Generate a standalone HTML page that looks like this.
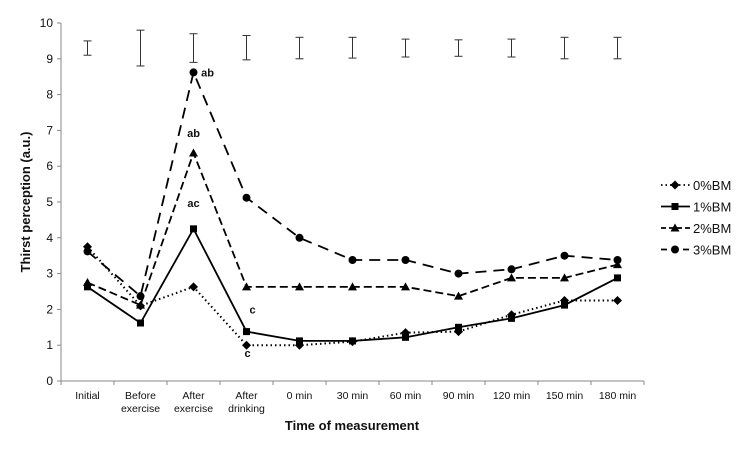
<!DOCTYPE html>
<html><head><meta charset="utf-8"><style>
body{margin:0;background:#fff;width:747px;height:445px;overflow:hidden}
text{font-family:"Liberation Sans",sans-serif;fill:#111}
</style></head><body>
<svg id="chart" width="747" height="445" xmlns="http://www.w3.org/2000/svg"></svg>
<script>
const categories=["Initial","Before|exercise","After|exercise","After|drinking","0 min","30 min","60 min","90 min","120 min","150 min","180 min"];
const yTicks=[0,1,2,3,4,5,6,7,8,9,10];
const s0=[3.75,2.1,2.63,1.0,1.0,1.1,1.35,1.38,1.85,2.25,2.25];
const s1=[2.63,1.62,4.25,1.38,1.12,1.12,1.22,1.5,1.75,2.12,2.88];
const s2=[2.75,2.12,6.37,2.63,2.63,2.63,2.63,2.37,2.88,2.88,3.25];
const s3=[3.62,2.37,8.62,5.12,4.0,3.38,3.38,3.0,3.12,3.5,3.38];
const errLow=[9.1,8.8,8.9,8.97,9.0,9.02,9.05,9.07,9.05,9.0,9.0];
const errHigh=[9.5,9.8,9.7,9.65,9.6,9.6,9.55,9.53,9.55,9.6,9.6];
const seriesNames=["0%BM","1%BM","2%BM","3%BM"];
const annotations=[{s:3,i:2,t:"ab",dx:14,dy:4},{s:2,i:2,t:"ab",dx:0,dy:-16},{s:1,i:2,t:"ac",dx:0,dy:-22},{s:1,i:3,t:"c",dx:6,dy:-18},{s:0,i:3,t:"c",dx:1,dy:12}];

const svg=document.getElementById('chart');
const NS="http://www.w3.org/2000/svg";
const X0=61,X1=644,Y0=381,Y1=23;
const bw=(X1-X0)/categories.length;
const xs=i=>X0+bw*(i+0.5);
const ys=v=>Y0-(Y0-Y1)*v/10;
function el(tag,attrs,parent){const e=document.createElementNS(NS,tag);for(const k in attrs)e.setAttribute(k,attrs[k]);(parent||svg).appendChild(e);return e;}

let g=el('g',{});


el('line',{x1:X0,y1:Y1,x2:X0,y2:Y0,stroke:'#888'},g);
yTicks.forEach(t=>{el('line',{x1:X0-4,x2:X0,y1:ys(t),y2:ys(t),stroke:'#888'},g);
 const tx=el('text',{x:X0-8,y:ys(t)+4,'text-anchor':'end','font-size':12},g);tx.textContent=t;});
g=el('g',{});


el('line',{x1:X0,y1:Y0,x2:X1,y2:Y0,stroke:'#888'},g);
for(let i=0;i<=categories.length;i++)el('line',{x1:X0+bw*i,x2:X0+bw*i,y1:Y0,y2:Y0+4,stroke:'#888'},g);
categories.forEach((c,i)=>{c.split('|').forEach((p,j)=>{const t=el('text',{x:xs(i),y:399+j*13,'text-anchor':'middle','font-size':10.5},g);t.textContent=p;});});
let t=el('text',{x:352,y:430,'text-anchor':'middle','font-size':13,'font-weight':'bold'});


t.textContent='Time of measurement';
t=el('text',{x:0,y:0,'text-anchor':'middle','font-size':13,'font-weight':'bold',transform:'translate(30,202) rotate(-90)'});


t.textContent='Thirst perception (a.u.)';

errLow.forEach((lo,i)=>{const eg=el('g',{stroke:'#333','stroke-width':1});
 
 
 el('line',{x1:xs(i),x2:xs(i),y1:ys(lo),y2:ys(errHigh[i])},eg);
 el('line',{x1:xs(i)-4,x2:xs(i)+4,y1:ys(lo),y2:ys(lo)},eg);
 el('line',{x1:xs(i)-4,x2:xs(i)+4,y1:ys(errHigh[i]),y2:ys(errHigh[i])},eg);});

const allSeries=[s0,s1,s2,s3];
const dashes=['1.5,3','none','8,4','11,7'];
function marker(k,x,y,p){
 if(k===0)el('polygon',{points:`${x},${y-4.5} ${x+4.5},${y} ${x},${y+4.5} ${x-4.5},${y}`,fill:'#000'},p);
 else if(k===1)el('rect',{x:x-3.5,y:y-3.5,width:7,height:7,fill:'#000'},p);
 else if(k===2)el('polygon',{points:`${x},${y-4.5} ${x+4.5},${y+3.5} ${x-4.5},${y+3.5}`,fill:'#000'},p);
 else el('circle',{cx:x,cy:y,r:4,fill:'#000'},p);}
allSeries.forEach((s,k)=>{const sg=el('g',{});
 
 
 el('polyline',{points:s.map((v,i)=>xs(i)+','+ys(v)).join(' '),fill:'none',stroke:'#000','stroke-width':k===0?2:1.8,'stroke-dasharray':dashes[k]},sg);
 s.forEach((v,i)=>marker(k,xs(i),ys(v),sg));});

annotations.forEach(a=>{const tx=el('text',{x:xs(a.i)+a.dx,y:ys(allSeries[a.s][a.i])+a.dy,'text-anchor':'middle','font-size':11,'font-weight':'bold'});
 
 
 tx.textContent=a.t;});

seriesNames.forEach((n,k)=>{const y=185+k*21.5;const lg=el('g',{});
 
 
 el('line',{x1:661,x2:690,y1:y,y2:y,stroke:'#000','stroke-width':1.8,'stroke-dasharray':dashes[k]==='11,7'?'6,5':dashes[k]==='8,4'?'5,3':dashes[k]},lg);
 marker(k,675,y,lg);
 const tx=el('text',{x:693,y:y+5,'font-size':13},lg);tx.textContent=n;});
</script>
</body></html>
